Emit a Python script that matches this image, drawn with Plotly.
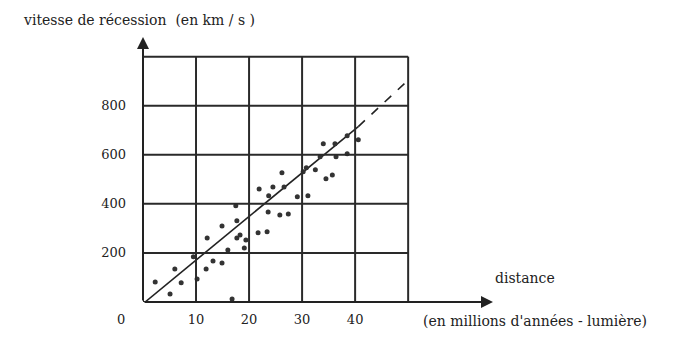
import plotly.graph_objects as go

# ---- data ----
distance = [2.3, 5.1, 6.0, 7.2, 10.2, 9.5, 11.9, 12.1, 13.2, 14.9, 14.9, 16.0, 16.8,
            17.5, 17.7, 17.7, 18.3, 19.4, 19.1, 21.9, 21.7, 23.4, 23.6, 24.5, 26.2,
            26.6, 25.8, 27.4, 29.1, 31.1, 30.8, 32.5, 33.4, 34.5, 35.7, 34.0, 36.4,
            36.2, 38.5, 40.6, 38.5, 30.2, 23.7]
vitesse = [82, 33, 135, 78, 94, 184, 135, 261, 167, 159, 310, 212, 12,
           392, 331, 261, 273, 253, 220, 461, 282, 286, 367, 469, 527,
           469, 355, 359, 429, 433, 547, 539, 592, 502, 518, 645, 592,
           645, 678, 661, 604, 531, 433]

fit_solid_x = [0.4, 40.6]
fit_solid_v = [0, 715]
fit_dash_x = [40.6, 49.8]
fit_dash_v = [715, 900]

x_grid = [0, 10, 20, 30, 40, 50]
v_grid = [0, 200, 400, 600, 800, 1000]
x_tick_vals = [10, 20, 30, 40]
x_tick_text = ["10", "20", "30", "40"]
y_tick_vals = [200, 400, 600, 800]
y_tick_text = ["200", "400", "600", "800"]

X_MAX = 66
V_MAX = 1080

INK = "#222222"
FONT = dict(family="DejaVu Serif, Liberation Serif, serif", size=13, color=INK)
FONT_LBL = dict(family="DejaVu Serif, Liberation Serif, serif", size=14, color=INK)

fig = go.Figure()

# grid
shapes = []
for gx in x_grid:
    shapes.append(dict(type="line", xref="x", yref="y", x0=gx, x1=gx, y0=0, y1=max(v_grid),
                       line=dict(color="#2a2a2a", width=2)))
for gv in v_grid:
    shapes.append(dict(type="line", xref="x", yref="y", x0=0, x1=max(x_grid), y0=gv, y1=gv,
                       line=dict(color="#2a2a2a", width=2)))

fig.add_trace(go.Scatter(x=fit_solid_x, y=fit_solid_v, mode="lines",
                         line=dict(color=INK, width=1.6), showlegend=False, hoverinfo="skip"))
fig.add_trace(go.Scatter(x=fit_dash_x, y=fit_dash_v, mode="lines",
                         line=dict(color=INK, width=1.6, dash="dash"), showlegend=False, hoverinfo="skip"))
fig.add_trace(go.Scatter(x=distance, y=vitesse, mode="markers",
                         marker=dict(color="#333333", size=5), showlegend=False))

# page offset of the figure (browser body margin)
OFF = 8
W, H = 696, 359
ML, MR, MT, MB = 135, 211, 29, 65
pw, ph = W - ML - MR, H - MT - MB

def px(x, y):
    return (x - OFF - ML) / pw, (H - MB - (y - OFF)) / ph

annotations = [
    dict(x=0, y=V_MAX, ax=0, ay=0, xref="x", yref="y", axref="x", ayref="y",
         showarrow=True, arrowhead=2, arrowsize=1.2, arrowwidth=2, arrowcolor=INK, text=""),
    dict(x=X_MAX, y=0, ax=0, ay=0, xref="x", yref="y", axref="x", ayref="y",
         showarrow=True, arrowhead=2, arrowsize=1.2, arrowwidth=2, arrowcolor=INK, text=""),
]
for txt, x, y, anchor, f in [
    ("0", 121, 319, "center", FONT),
    ("vitesse de récession  (en km / s )", 21, 20, "left", FONT_LBL),
    ("distance", 493, 278, "left", FONT_LBL),
    ("(en millions d'années - lumière)", 421, 321, "left", FONT_LBL),
]:
    ax_, ay_ = px(x, y)
    annotations.append(dict(x=ax_, y=ay_, xref="paper", yref="paper", xanchor=anchor,
                            yanchor="middle", text=txt, showarrow=False, font=f))

fig.update_layout(
    width=W, height=H,
    margin=dict(l=ML, r=MR, t=MT, b=MB),
    paper_bgcolor="white", plot_bgcolor="white",
    shapes=shapes, annotations=annotations,
    font=FONT,
    xaxis=dict(range=[0, X_MAX], showgrid=False, zeroline=False, showline=False,
               tickvals=x_tick_vals, ticktext=x_tick_text, ticks="",
               ticklabelstandoff=8, tickfont=FONT),
    yaxis=dict(range=[0, V_MAX], showgrid=False, zeroline=False, showline=False,
               tickvals=y_tick_vals, ticktext=y_tick_text, ticks="",
               ticklabelstandoff=16, tickfont=FONT),
)

fig.write_html("out.html")
